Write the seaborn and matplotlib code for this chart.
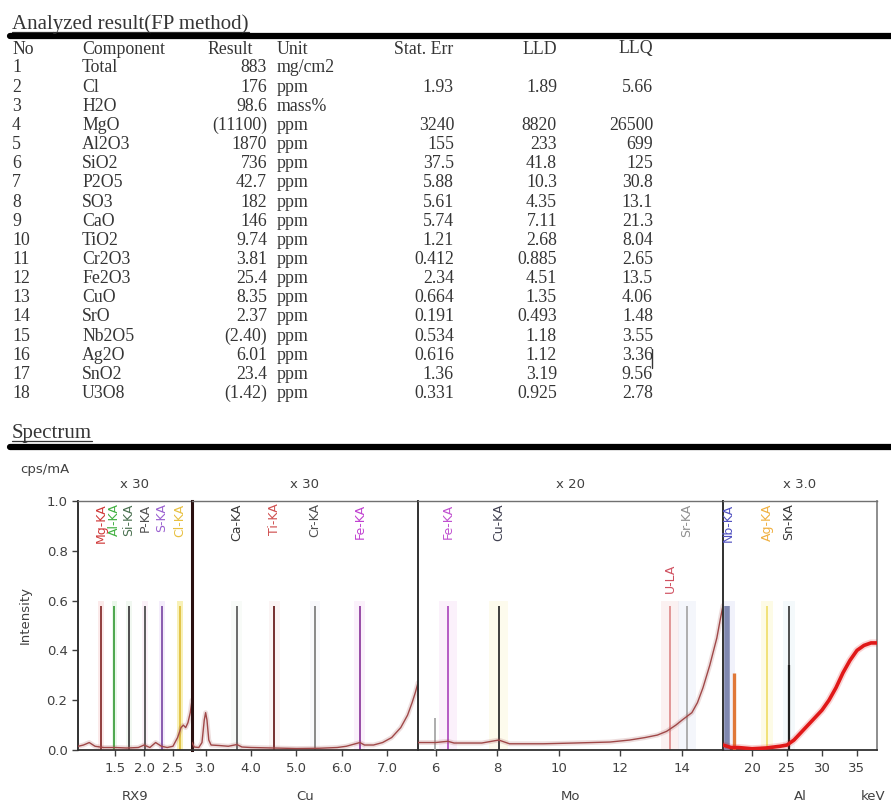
import matplotlib
matplotlib.use("Agg")
import matplotlib.pyplot as plt
from matplotlib.lines import Line2D
import seaborn as sns

# ---------------- analysis table ----------------
row_no = [str(i) for i in range(1, 19)]
components = ["Total", "Cl", "H2O", "MgO", "Al2O3", "SiO2", "P2O5", "SO3", "CaO",
              "TiO2", "Cr2O3", "Fe2O3", "CuO", "SrO", "Nb2O5", "Ag2O", "SnO2", "U3O8"]
results = ["883", "176", "98.6", "(11100)", "1870", "736", "42.7", "182", "146",
           "9.74", "3.81", "25.4", "8.35", "2.37", "(2.40)", "6.01", "23.4", "(1.42)"]
units = ["mg/cm2", "ppm", "mass%"] + ["ppm"] * 15
stat_err = ["", "1.93", "", "3240", "155", "37.5", "5.88", "5.61", "5.74",
            "1.21", "0.412", "2.34", "0.664", "0.191", "0.534", "0.616", "1.36", "0.331"]
lld = ["", "1.89", "", "8820", "233", "41.8", "10.3", "4.35", "7.11",
       "2.68", "0.885", "4.51", "1.35", "0.493", "1.18", "1.12", "3.19", "0.925"]
llq = ["", "5.66", "", "26500", "699", "125", "30.8", "13.1", "21.3",
       "8.04", "2.65", "13.5", "4.06", "1.48", "3.55", "3.36", "9.56", "2.78"]
headers = ["No", "Component", "Result", "Unit", "Stat. Err", "LLD", "LLQ"]

# ---------------- spectrum ----------------
panel_names = ["RX9", "Cu", "Mo", "Al"]
panel_scales = ["x 30", "x 30", "x 20", "x 3.0"]
panel_ranges = [(0.855, 2.83), (2.70, 7.68), (5.43, 15.33), (15.86, 37.86)]
panel_ticks = [[1.5, 2.0, 2.5], [3.0, 4.0, 5.0, 6.0, 7.0],
               [6, 8, 10, 12, 14], [20, 25, 30, 35]]
panel_ticklabels = [["1.5", "2.0", "2.5"], ["3.0", "4.0", "5.0", "6.0", "7.0"],
                    ["6", "8", "10", "12", "14"], ["20", "25", "30", "35"]]

rx9_kev = [0.86, 0.95, 1.05, 1.15, 1.30, 1.50, 1.70, 1.90, 2.00, 2.10, 2.20, 2.30,
           2.40, 2.50, 2.58, 2.64, 2.68, 2.72, 2.76, 2.80, 2.83]
rx9_int = [0.015, 0.02, 0.03, 0.015, 0.01, 0.01, 0.008, 0.01, 0.02, 0.01, 0.03, 0.015,
           0.01, 0.015, 0.05, 0.09, 0.10, 0.09, 0.11, 0.15, 0.20]
cu_kev = [2.70, 2.75, 2.85, 2.92, 2.97, 3.00, 3.03, 3.07, 3.12, 3.30, 3.50, 3.69, 3.80,
          4.00, 4.50, 5.00, 5.50, 5.90, 6.10, 6.30, 6.40, 6.50, 6.70, 6.90, 7.10,
          7.30, 7.45, 7.55, 7.62, 7.68]
cu_int = [0.03, 0.012, 0.01, 0.03, 0.12, 0.15, 0.12, 0.04, 0.02, 0.018, 0.015, 0.022,
          0.012, 0.01, 0.008, 0.006, 0.007, 0.01, 0.015, 0.025, 0.03, 0.02, 0.02,
          0.03, 0.05, 0.09, 0.14, 0.19, 0.23, 0.27]
mo_kev = [5.43, 6.00, 6.40, 6.60, 7.50, 8.05, 8.40, 9.50, 10.5, 11.66, 12.3, 12.8,
          13.2, 13.5, 13.8, 14.0, 14.32, 14.5, 14.68, 14.9, 15.13, 15.25, 15.33]
mo_int = [0.03, 0.03, 0.035, 0.028, 0.028, 0.04, 0.025, 0.025, 0.028, 0.032, 0.04,
          0.05, 0.06, 0.075, 0.10, 0.12, 0.15, 0.19, 0.25, 0.34, 0.45, 0.53, 0.58]
al_kev = [15.86, 17.0, 18.0, 20.0, 22.0, 24.0, 25.0, 26.0, 27.0, 28.0, 29.0, 30.0,
          31.0, 32.0, 33.0, 34.0, 35.0, 36.0, 37.0, 37.86]
al_int = [0.02, 0.01, 0.01, 0.005, 0.008, 0.015, 0.02, 0.04, 0.07, 0.10, 0.13, 0.16,
          0.20, 0.25, 0.31, 0.36, 0.40, 0.42, 0.43, 0.43]
spectra_kev = [rx9_kev, cu_kev, mo_kev, al_kev]
spectra_int = [rx9_int, cu_int, mo_int, al_int]
spectra_color = ["#a04848", "#a04848", "#a04848", "#e01818"]
spectra_width = [1.0, 1.0, 1.0, 2.6]

# element lines: label, energy, label colour, line colour
line_labels = [["Mg-KA", "Al-KA", "Si-KA", "P-KA", "S-KA", "Cl-KA"],
               ["Ca-KA", "Ti-KA", "Cr-KA", "Fe-KA"],
               ["Fe-KA", "Cu-KA", "U-LA", "Sr-KA"],
               ["Nb-KA", "Ag-KA", "Sn-KA"]]
line_kev = [[1.254, 1.487, 1.740, 2.013, 2.307, 2.622],
            [3.69, 4.51, 5.41, 6.40],
            [6.40, 8.05, 13.61, 14.16],
            [16.62, 22.16, 25.27]]
label_colors = [["#d03838", "#40b040", "#4a7050", "#505050", "#9a60d0", "#e8c040"],
                ["#383838", "#d05050", "#505050", "#c040d0"],
                ["#c050d0", "#404050", "#d05060", "#909090"],
                ["#5050c0", "#f0b040", "#383838"]]
line_colors = [["#8a3030", "#40a040", "#404040", "#505050", "#8050a8", "#e0c040"],
               ["#606060", "#6a2020", "#808080", "#9040a0"],
               ["#b050c0", "#303030", "#e09090", "#a8a8a8"],
               ["#808080", "#f0e070", "#404040"]]
band_colors = [["#f0a0a0", "#a0e0a0", "#c0e0c0", "#f0c0e0", "#d0b0f0", "#f0e060"],
               ["#e0f0e0", "#f0d0d0", "#e0e0f0", "#f0c0f0"],
               ["#f0c0f0", "#f8f0b0", "#f0c0c0", "#d0d8f0"],
               ["#c0c8f0", "#f8f090", "#d0e8f0"]]
band_halfwidth = [0.05, 0.12, 0.30, 0.9]
line_height = 0.58
label_top = [[0.99] * 6, [0.99] * 4, [0.99, 0.99, 0.75, 0.99], [0.99] * 3]

# measured peak bars drawn over the markers
bar_panel = [2, 3, 3, 3]
bar_kev = [5.98, 16.45, 17.48, 25.27]
bar_height = [0.13, 0.58, 0.31, 0.34]
bar_color = ["#a0a0a0", "#8088b0", "#e07838", "#202020"]
bar_width = [1.2, 4.0, 2.4, 1.6]

# ---------------- figure ----------------
sns.set_theme(style="ticks")
plt.rcParams["font.family"] = ["DejaVu Sans"]
W, H = 891, 806
fig = plt.figure(figsize=(W / 100, H / 100), dpi=100)
fig.patch.set_facecolor("white")


def fx(x):
    return x / W


def fy(y):
    return 1 - y / H


serif = ["Liberation Serif", "DejaVu Serif"]
tcol = "#353535"
tsize = 12.8

# section titles and rules
fig.text(fx(12), fy(29), "Analyzed result(FP method)", family=serif, size=15,
         color=tcol, va="baseline")
fig.add_artist(Line2D([fx(12), fx(249)], [fy(31.5)] * 2, lw=0.9, color=tcol))
fig.add_artist(Line2D([fx(10), 1.0], [fy(35.5)] * 2, lw=4.5, color="black"))
fig.text(fx(12), fy(438), "Spectrum", family=serif, size=15, color=tcol,
         va="baseline")
fig.add_artist(Line2D([fx(12), fx(92)], [fy(440.5)] * 2, lw=0.9, color=tcol))
fig.add_artist(Line2D([fx(10), 1.0], [fy(447)] * 2, lw=4.5, color="black"))

# table columns: (x, alignment)
col_x = [(12, "left"), (82, "left"), (267, "right"), (277, "left"),
         (454, "right"), (557, "right"), (653, "right")]
head_x = [(12, "left"), (82, "left"), (253, "right"), (277, "left"),
          (453, "right"), (557, "right"), (653, "right")]
for (x, ha), h in zip(head_x, headers):
    fig.text(fx(x), fy(49), h, family=serif, size=tsize, color=tcol, ha=ha,
             va="center")
columns = [row_no, components, results, units, stat_err, lld, llq]
for i in range(len(row_no)):
    y = 68 + i * 19.15
    for (x, ha), col in zip(col_x, columns):
        if col[i]:
            fig.text(fx(x), fy(y), col[i], family=serif, size=tsize, color=tcol,
                     ha=ha, va="center")

# text caret left after the LLQ value of row 16
fig.add_artist(Line2D([fx(652), fx(652)], [fy(349), fy(368)], lw=1.0, color=tcol))

# spectrum panels
edges = [78, 192, 418, 723, 877]
top, bottom = 501, 750
gcol = "#404040"
axes = []
for p in range(4):
    ax = fig.add_axes([fx(edges[p]), fy(bottom), fx(edges[p + 1]) - fx(edges[p]),
                       (bottom - top) / H])
    axes.append(ax)
    ax.set_xlim(*panel_ranges[p])
    ax.set_ylim(0, 1)
    ax.set_facecolor("white")

    # faint bands and element marker lines
    for lab, e, lc, mc, bc, lt in zip(line_labels[p], line_kev[p], label_colors[p],
                                      line_colors[p], band_colors[p], label_top[p]):
        alpha = 0.45 if lab == "Cl-KA" else 0.22
        ax.axvspan(e - band_halfwidth[p], e + band_halfwidth[p], ymin=0, ymax=0.6,
                   color=bc, alpha=alpha, lw=0, zorder=0)
        ax.vlines(e, 0, line_height, color=mc, lw=1.3, zorder=2)
        ax.text(e, lt, lab, rotation=90, ha="center", va="top", fontsize=9,
                color=lc, zorder=4)

    for bp, bk, bh, bc, bw in zip(bar_panel, bar_kev, bar_height, bar_color, bar_width):
        if bp == p:
            ax.vlines(bk, 0, bh, color=bc, lw=bw, zorder=3)

    sns.lineplot(x=spectra_kev[p], y=spectra_int[p], ax=ax, color=spectra_color[p],
                 lw=spectra_width[p] + 2.5, alpha=0.18, sort=False, estimator=None,
                 zorder=4)
    sns.lineplot(x=spectra_kev[p], y=spectra_int[p], ax=ax, color=spectra_color[p],
                 lw=spectra_width[p], sort=False, estimator=None, zorder=5)

    ax.set_xticks(panel_ticks[p])
    ax.set_xticklabels(panel_ticklabels[p], fontsize=9.5, color=gcol)
    ax.tick_params(axis="x", length=4, width=1, color=gcol, pad=5)
    ax.set_xlabel("")
    ax.set_ylabel("")
    for s in ["top", "right", "left", "bottom"]:
        ax.spines[s].set_visible(False)
    ax.spines["top"].set_visible(True)
    ax.spines["top"].set_color("#707070")
    ax.spines["top"].set_linewidth(1.0)
    ax.spines["bottom"].set_visible(True)
    ax.spines["bottom"].set_color("#303030")
    ax.spines["bottom"].set_linewidth(1.3)
    ax.spines["left"].set_visible(True)
    ax.spines["left"].set_color("#2a1010" if p == 1 else "#303030")
    ax.spines["left"].set_linewidth(2.2 if p == 1 else 1.4)
    if p == 3:
        ax.spines["right"].set_visible(True)
        ax.spines["right"].set_color("#808080")
    if p == 0:
        ax.set_yticks([0, 0.2, 0.4, 0.6, 0.8, 1.0])
        ax.set_yticklabels(["0.0", "0.2", "0.4", "0.6", "0.8", "1.0"], fontsize=9.5,
                           color=gcol)
        ax.tick_params(axis="y", length=4, width=1, color=gcol)
    else:
        ax.set_yticks([])

    cx = (edges[p] + edges[p + 1]) / 2
    fig.text(fx(cx), fy(484), panel_scales[p], ha="center", va="center",
             fontsize=9.5, color=gcol)
    fig.text(fx(cx), fy(797), panel_names[p], ha="center", va="center",
             fontsize=9.5, color=gcol)

fig.text(fx(873), fy(797), "keV", ha="center", va="center", fontsize=9.5, color=gcol)
fig.text(fx(20), fy(470), "cps/mA", ha="left", va="center", fontsize=9.5, color=gcol)
fig.text(fx(25), fy(615), "Intensity", ha="center", va="center", rotation=90,
         fontsize=9.5, color=gcol)

fig.savefig("out.png", dpi=100, facecolor="white")
